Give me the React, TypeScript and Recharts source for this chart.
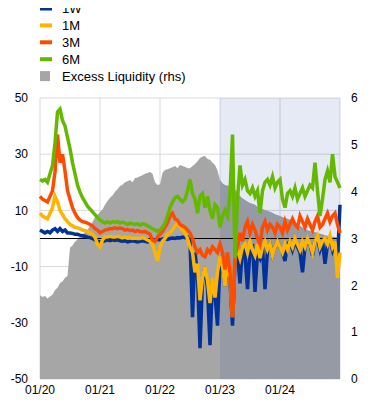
import {
  Area,
  CartesianGrid,
  ComposedChart,
  Line,
  ReferenceArea,
  ReferenceLine,
  XAxis,
  YAxis
} from "recharts";

// half-month steps from 01/2020 to 12/2024
const yearTicks = [0, 12, 24, 36, 48, 60];
const yearLabels = ["01/20", "01/21", "01/22", "01/23", "01/24", ""];
const leftTicks = [-50, -30, -10, 10, 30, 50];
const rightTicks = [0, 1, 2, 3, 4, 5, 6];

const rate1W = [
  3, 2.5, 2, 2.5, 2, 3, 3.5, 2.5, 3.5, 2.5, 3, 2, 2, 1.8, 1.5, 1.5, 1.2, 1, 0.8, 0.5,
  0.3, 0, -0.5, -1, -1.2, -1, -0.8, -0.5, -0.8, -0.5, -0.7, -0.5, -0.8, -1, -0.8, -1.2, -1, -0.8, -1, -1.2,
  -1, -0.8, -1, -1.2, -1, -0.8, -0.5, -0.3, -0.5, -0.2, 0, -0.3, 0, 0.2, 0, 0.3, 0.2, 0.5, 0.3, 0.5,
  -1, -28, -5, -13, -39, -15, -10, -18, -38, -15, -20, -31, -8, -10, -17, -9, -15, -31, -8, -5,
  -16, -3, -6, -18, -4, -2, -19, -5, -7, -3, -18, -4, -2, -6, -3, -1, -3, -5, -8, -2,
  -1, -4, -1, -3, -5, -12, -3, -1, -2, -6, -1, 0, -4, -1, -9, -2, 0, -4, -1, -8,
  12
];

const rate1M = [
  9, 8, 7.5, 7, 9, 11, 15, 13, 10, 8.5, 7, 6, 5, 4.5, 4, 3.8, 3.5, 3, 2.8, 2.5,
  2, 1.5, 0.5, -2, -3, -0.5, 0.5, 0.5, 0.8, 0.5, 0.5, 0.8, 0.5, 0.3, 0.5, 0.2, 0.3, 0, 0.2, 0,
  0, 0.3, 0, -0.5, -1, -2, -5, -8, -3, -1, 0, 1.5, 2, 3, 4.5, 5.5, 4, 3, 2, 0,
  -3, -5, -12, -9, -22, -14, -10, -15, -23, -14, -21, -12, -6.5, -10, -17, -8, -14, -28, -6, -4,
  -7, -3, -2, -5, -1, -4, -6, -2, -7, -3, -1, -4, -2, -6, -3, -1, -3, -5, -2, -4,
  -1, -3, 0, -2, -4, -1, -3, 0, -2, -5, -1, 1, -3, -1, 0, -2, 1, -3, -1, -14,
  -5
];

const rate3M = [
  15, 14, 13.5, 13, 15, 17, 23.7, 37, 27, 30, 24, 17, 14, 11, 9, 7.5, 6.5, 6, 5.8, 5.5,
  5, 4.5, 3.5, 3, 2, 2.5, 3, 3.2, 3.5, 3.5, 3.8, 3.5, 3.7, 3.5, 3, 3.2, 2.8, 3, 2.5, 2.8,
  2.5, 2.3, 2.5, 2, 1.5, -0.5, -1, 0.5, 1.5, 2.5, 4, 5.5, 8, 9, 7, 6.5, 5, 4.5, 4, 3,
  2, 0, -3, -5, -4, -6, -6.5, -4, -5, -3, -4, -5, -2, -5, -11, -5, -12, -28, -6, -3,
  2, -1, 4, 6, 2, 5, 3, 0, -2, 4, 6, 3, 5, 4, 2, 5, 4, 2, 6, 3,
  5, 7, 5, 4, 8, 6, 4, 7, 5, 3, 6, 8, 4, 5, 7, 9, 6, 8, 9, 5,
  2
];

const rate6M = [
  21, 20.5, 21, 20, 23, 26, 34, 45, 46, 42, 40, 36, 32, 27, 23, 19, 16.5, 14.5, 13, 11.5,
  10.5, 9.5, 8.5, 7.5, 6.5, 6, 5.5, 6, 5.5, 6, 5.8, 6, 5.5, 5.8, 5.5, 5, 5.5, 5.2, 5, 5.3,
  4.8, 5.2, 5, 4.5, 4, 3.5, 3, 2.5, 3, 4, 5.5, 8, 11, 13, 14.5, 15, 14, 13, 14, 17,
  21, 16, 14, 9, 15, 16, 11, 15, 10, 7, 12, 11, 4, 8, 10, 8, 16, 37, -7, 14,
  26, 19, 21, 17, 16, 18, 15, 17, 9, 17, 20, 21, 19, 22, 18, 20, 21, 14, 11, 16,
  17, 15, 18, 14, 16, 18, 15, 17, 19, 18, 27, 17, 8, 14, 21, 24, 20, 30, 22, 20,
  18
];

const excessLiquidity = [
  1.79, 1.75, 1.77, 1.72, 1.76, 1.8, 1.9, 1.95, 2.05, 2.08, 2.16, 2.2, 2.8, 2.85, 2.93, 2.98, 3.05, 3.08, 3.14, 3.18,
  3.27, 3.35, 3.46, 3.5, 3.57, 3.62, 3.72, 3.8, 3.87, 3.92, 4.0, 4.05, 4.12, 4.15, 4.2, 4.22, 4.25, 4.2, 4.29, 4.3,
  4.33, 4.35, 4.38, 4.4, 4.42, 4.38, 4.2, 4.14, 4.16, 4.4, 4.46, 4.48, 4.5, 4.52, 4.55, 4.5, 4.57, 4.55, 4.53, 4.5,
  4.5, 4.55, 4.59, 4.65, 4.72, 4.75, 4.76, 4.7, 4.68, 4.62, 4.57, 4.45, 4.25, 4.18, 4.14, 4.13, 4.12, 4.08, 4.04, 3.98,
  3.91, 3.86, 3.82, 3.79, 3.76, 3.74, 3.72, 3.68, 3.65, 3.63, 3.61, 3.59, 3.57, 3.55, 3.52, 3.5, 3.48, 3.46, 3.44, 3.42,
  3.4, 3.38, 3.35, 3.3, 3.27, 3.24, 3.2, 3.18, 3.16, 3.15, 3.14, 3.12, 3.1, 3.09, 3.07, 3.06, 3.05, 3.04, 3.03, 3.02,
  3.0
];

const data = rate1W.map((w1, i) => ({
  t: i / 2,
  w1,
  m1: rate1M[i],
  m3: rate3M[i],
  m6: rate6M[i],
  el: excessLiquidity[i]
}));

const legendItems = [
  { label: "1W", color: "#003299", square: false },
  { label: "1M", color: "#ffb400", square: false },
  { label: "3M", color: "#ff4b00", square: false },
  { label: "6M", color: "#65b800", square: false },
  { label: "Excess Liquidity (rhs)", color: "#a6a6a6", square: true }
];

const font = "'Liberation Sans', Arial, sans-serif";
const tickStyle = { fontSize: 12, fill: "#000", fontFamily: font };

const ChartLegend = () => (
  <svg
    width={372}
    height={90}
    style={{ position: "absolute", left: 0, top: 0, pointerEvents: "none" }}
  >
    {legendItems.map((item, i) => {
      const cy = 8.5 + i * 16.9;
      return (
        <g key={item.label}>
          {item.square ? (
            <rect x={40} y={cy - 5} width={10} height={10} fill={item.color} />
          ) : (
            <rect x={40} y={cy - 2} width={12} height={4} fill={item.color} />
          )}
          <text
            x={62}
            y={cy + 4.6}
            fontFamily={font}
            fontSize={13}
            fill="#000"
          >
            {item.label}
          </text>
        </g>
      );
    })}
  </svg>
);

const App = () => {
  return (
    <div style={{ position: "relative", width: 372, height: 406, margin: -8 }}>
      <ComposedChart
        width={372}
        height={406}
        data={data}
        margin={{ top: 98, right: 0, bottom: 0, left: 8 }}
      >
        <CartesianGrid yAxisId="left" stroke="#d9d9d9" strokeWidth={1} />
        <XAxis
          dataKey="t"
          type="number"
          domain={[0, 60]}
          ticks={yearTicks}
          tickFormatter={(v: number) => yearLabels[yearTicks.indexOf(v)] ?? ""}
          axisLine={false}
          tickLine={false}
          tickSize={0}
          tickMargin={6}
          height={27}
          interval={0}
          tick={tickStyle}
        />
        <YAxis
          yAxisId="left"
          domain={[-50, 50]}
          ticks={leftTicks}
          axisLine={false}
          tickLine={false}
          tickSize={0}
          tickMargin={12}
          width={32}
          interval={0}
          tick={tickStyle}
        />
        <YAxis
          yAxisId="right"
          orientation="right"
          domain={[0, 6]}
          ticks={rightTicks}
          axisLine={false}
          tickLine={false}
          tickSize={0}
          tickMargin={11}
          width={32}
          interval={0}
          tick={tickStyle}
        />
        <Area
          yAxisId="right"
          dataKey="el"
          type="linear"
          fill="#a6a6a6"
          fillOpacity={1}
          stroke="none"
          isAnimationActive={false}
        />
        <ReferenceLine yAxisId="left" y={0} stroke="#000" strokeWidth={1} />
        <Line yAxisId="left" dataKey="w1" stroke="#003299" strokeWidth={3.5} dot={false} isAnimationActive={false} />
        <Line yAxisId="left" dataKey="m1" stroke="#ffb400" strokeWidth={3.5} dot={false} isAnimationActive={false} />
        <Line yAxisId="left" dataKey="m3" stroke="#ff4b00" strokeWidth={3.5} dot={false} isAnimationActive={false} />
        <Line yAxisId="left" dataKey="m6" stroke="#65b800" strokeWidth={3.5} dot={false} isAnimationActive={false} />
        <ReferenceArea
          yAxisId="left"
          x1={36}
          x2={60}
          y1={-50}
          y2={50}
          fill="#003299"
          fillOpacity={0.1}
          stroke="none"
        />
      </ComposedChart>
      <ChartLegend />
    </div>
  );
};

export default App;
